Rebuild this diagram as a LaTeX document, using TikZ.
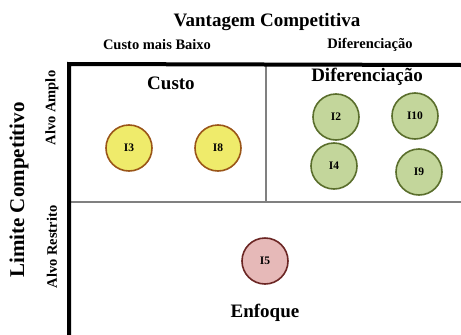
\documentclass[tikz,border=0pt]{standalone}
\usepackage{fontspec}
\setmainfont{Liberation Serif}
\definecolor{yfill}{HTML}{EFEB6B}
\definecolor{ydraw}{HTML}{9A5518}
\definecolor{gfill}{HTML}{C3D69B}
\definecolor{gdraw}{HTML}{5A6E2C}
\definecolor{pfill}{HTML}{E6B9B8}
\definecolor{pdraw}{HTML}{6B2624}
\definecolor{divgray}{HTML}{808080}
\tikzset{
  item/.style={circle, minimum size=46pt, inner sep=0pt, line width=1.6pt,
    font=\bfseries\fontsize{11.5}{13}\selectfont},
  costitem/.style={item, fill=yfill, draw=ydraw},
  diffitem/.style={item, fill=gfill, draw=gdraw},
  focusitem/.style={item, fill=pfill, draw=pdraw},
  bigtitle/.style={font=\bfseries\fontsize{19}{22}\selectfont, inner sep=0pt},
  sidetitle/.style={font=\bfseries\fontsize{21}{24}\selectfont, inner sep=0pt},
  quadtitle/.style={font=\bfseries\fontsize{19}{22}\selectfont, inner sep=0pt},
  axislabel/.style={font=\bfseries\fontsize{14.5}{17}\selectfont, inner sep=0pt},
  sidelabel/.style={font=\bfseries\fontsize{14.5}{17}\selectfont, inner sep=0pt},
  axisline/.style={line width=4pt},
  divline/.style={divgray, line width=2pt},
}
\begin{document}
\begin{tikzpicture}[x=1pt, y=-1pt]
\useasboundingbox (0,0) rectangle (461,335);
% axes
\coordinate (corner) at (69,65);
\coordinate (right) at (461,65);
\coordinate (bottom) at (69,335);
\coordinate (midleft) at (69,202);
\coordinate (midright) at (461,202);
\coordinate (divtop) at (266,65);
\coordinate (divbot) at (266,202);
\draw[divline] (midleft) -- (midright);
\draw[divline] (divtop) -- (divbot);
\draw[axisline] (bottom) -- ([yshift=1pt]corner) -- (right);
% header labels
\node[bigtitle] (vc) at (267,22) {Vantagem Competitiva};
\node[axislabel] (cmb) at (157,45) {Custo mais Baixo};
\node[axislabel] (dif) at (370,45) {Diferenciação};
% side labels
\node[sidetitle, rotate=90] (lc) at (19,190) {Limite Competitivo};
\node[sidelabel, rotate=90] (aa) at (52,108) {Alvo Amplo};
\node[sidelabel, rotate=90] (ar) at (52,247) {Alvo Restrito};
% quadrant titles
\node[quadtitle] (custo) at (171,83) {Custo};
\node[quadtitle] (difq) at (367,77) {Diferenciação};
\node[quadtitle] (enf) at (265,313) {Enfoque};
% items
\node[costitem] (i3) at (129,148) {I3};
\node[costitem] (i8) at (218,148) {I8};
\node[diffitem] (i2) at (336,117) {I2};
\node[diffitem] (i10) at (415,116) {I10};
\node[diffitem] (i4) at (334,166) {I4};
\node[diffitem] (i9) at (419,172) {I9};
\node[focusitem] (i5) at (265,261) {I5};
\end{tikzpicture}
\end{document}
